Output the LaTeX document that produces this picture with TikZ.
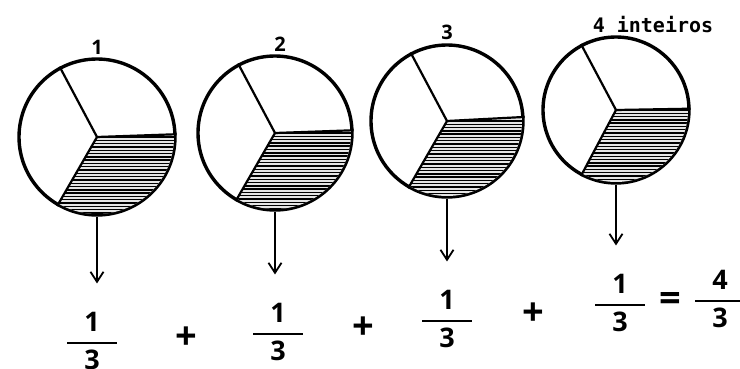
\documentclass[tikz,border=0pt]{standalone}
\usepackage{amsmath}
\usepackage{fontspec}
\setmainfont{DejaVu Sans Mono}
\newfontfamily\digitos{Open Sans}
\usetikzlibrary{positioning, arrows.meta}
\newcommand{\fracao}[2]{$\genfrac{}{}{2pt}{0}{\hbox to 50pt{\hss#1\hss}}{\hbox{#2}}$}

\begin{document}
\begin{tikzpicture}[x=1pt, y=1pt,
    roda/.style={circle, draw, line width=3.4pt, inner sep=0pt},
    corte/.style={line width=2.2pt},
    hachura/.style={line width=1.4pt},
    seta/.style={line width=1.8pt, shorten >=28pt, -{Straight Barb[length=10pt, width=13pt, line width=1.8pt]}},
    rotulo/.style={font=\fontsize{20}{22}\selectfont\bfseries, inner sep=1pt},
    numero/.style={font=\digitos\fontsize{20}{22}\selectfont\bfseries, inner sep=1pt},
    conta/.style={font=\digitos\fontsize{27}{30}\selectfont\bfseries, inner sep=1pt},
    sinal/.style={font=\digitos\fontsize{38}{40}\selectfont\bfseries, inner sep=0pt}]

      \useasboundingbox (0,0) rectangle (740,-369);

      % 1. Círculos (cada um é um inteiro)
      \node[roda, minimum size=156pt] (c1) at (97,-137) {};
      \node[roda, minimum size=154pt] (c2) at (275,-133) {};
      \node[roda, minimum size=152pt] (c3) at (447,-121) {};
      \node[roda, minimum size=146pt] (c4) at (616,-110) {};

      % 2. Terço sombreado (linhas horizontais)
      \begin{scope}[shift={(c1.center)}]
        \clip (0,0) -- (2:77) arc[start angle=2, end angle=-120, radius=77] -- cycle;
        \fill[gray!20] (0,0) circle (78);
        \foreach \k in {0,3.3,...,80} \draw[hachura] (-80,-\k) -- (80,-\k);
      \end{scope}
      \begin{scope}[shift={(c2.center)}]
        \clip (0,0) -- (2:76) arc[start angle=2, end angle=-120, radius=76] -- cycle;
        \fill[gray!20] (0,0) circle (77);
        \foreach \k in {0,3.3,...,80} \draw[hachura] (-80,-\k) -- (80,-\k);
      \end{scope}
      \begin{scope}[shift={(c3.center)}]
        \clip (0,0) -- (3:75) arc[start angle=3, end angle=-120, radius=75] -- cycle;
        \fill[gray!20] (0,0) circle (76);
        \foreach \k in {0,3.3,...,80} \draw[hachura] (-80,-\k) -- (80,-\k);
      \end{scope}
      \begin{scope}[shift={(c4.center)}]
        \clip (0,0) -- (1:72) arc[start angle=1, end angle=-118, radius=72] -- cycle;
        \fill[gray!20] (0,0) circle (73);
        \foreach \k in {0,3.3,...,80} \draw[hachura] (-80,-\k) -- (80,-\k);
      \end{scope}

      % 3. Cortes em três partes
      \draw[corte] (c1.center) -- (c1.118) (c1.center) -- (c1.240) (c1.center) -- (c1.2);
      \draw[corte] (c2.center) -- (c2.118) (c2.center) -- (c2.240) (c2.center) -- (c2.2);
      \draw[corte] (c3.center) -- (c3.118) (c3.center) -- (c3.240) (c3.center) -- (c3.3);
      \draw[corte] (c4.center) -- (c4.118) (c4.center) -- (c4.242) (c4.center) -- (c4.1);

      % 4. Números por cima
      \node[numero, above=2pt of c1] (n1) {1};
      \node[numero, above=2pt of c2, xshift=5pt] (n2) {2};
      \node[numero, above=2pt of c3] (n3) {3};
      \node[rotulo, above=1pt of c4, xshift=37pt] (n4) {4 inteiros};

      % 5. Conta em baixo
      \node[conta] (f1) at (92,-341) {\fracao{1}{3}};
      \node[sinal] (s1) at (186,-338) {+};
      \node[conta] (f2) at (278,-332) {\fracao{1}{3}};
      \node[sinal] (s2) at (363,-328) {+};
      \node[conta] (f3) at (447,-319) {\fracao{1}{3}};
      \node[sinal] (s3) at (533,-314) {+};
      \node[conta] (f4) at (620,-303) {\fracao{1}{3}};
      \node[sinal] (ig) at (670,-302) {=};
      \node[conta] (f5) at (720,-299) {\fracao{4}{3}};

      % 6. Setas
      \draw[seta] (c1.south) -- (c1.south |- f1.north);
      \draw[seta] (c2.south) -- (c2.south |- f2.north);
      \draw[seta] (c3.south) -- (c3.south |- f3.north);
      \draw[seta] (c4.south) -- (c4.south |- f4.north);

\end{tikzpicture}
\end{document}
